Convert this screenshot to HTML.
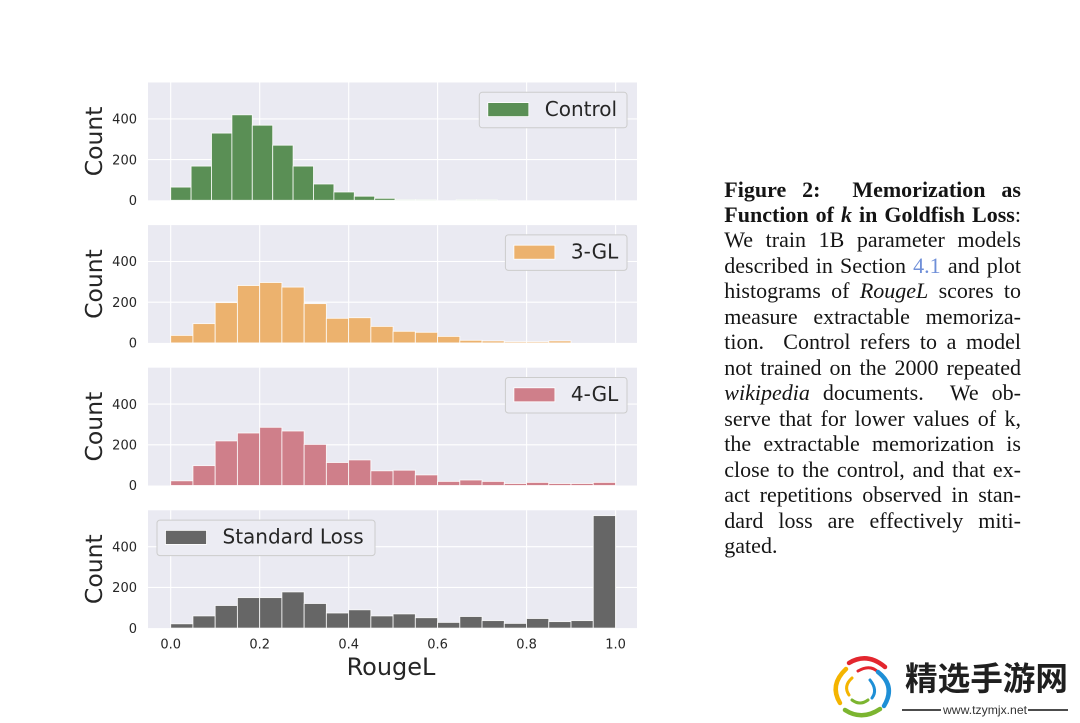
<!DOCTYPE html>
<html><head><meta charset="utf-8">
<style>
html,body{margin:0;padding:0;background:#fff;}
#wrap{position:relative;width:1080px;height:723px;overflow:hidden;background:#fff;}
svg{position:absolute;left:0;top:0;}
#cap{position:absolute;left:724.3px;top:176.5px;width:296.7px;font-family:"Liberation Serif","Times New Roman",serif;font-size:22px;line-height:25.47px;color:#141414;}
#cap div{text-align:justify;text-align-last:justify;height:25.47px;}
#cap div.last{text-align:left;text-align-last:left;}
.bl{color:#6f8fd8;}
</style></head>
<body><div id="wrap">
<svg width="1080" height="723" viewBox="0 0 1080 723" xmlns="http://www.w3.org/2000/svg" font-family="'DejaVu Sans','Liberation Sans',sans-serif">
<!-- panel backgrounds -->
<rect x="148" y="82.5" width="489" height="117.8" fill="#eaeaf2"/>
<rect x="148" y="225.1" width="489" height="117.8" fill="#eaeaf2"/>
<rect x="148" y="367.7" width="489" height="117.8" fill="#eaeaf2"/>
<rect x="148" y="510.3" width="489" height="117.8" fill="#eaeaf2"/>
<!-- grid -->
<g stroke="#ffffff" stroke-width="1.1">
<line x1="170.7" y1="82.5" x2="170.7" y2="200.3"/><line x1="259.7" y1="82.5" x2="259.7" y2="200.3"/><line x1="348.7" y1="82.5" x2="348.7" y2="200.3"/><line x1="437.6" y1="82.5" x2="437.6" y2="200.3"/><line x1="526.6" y1="82.5" x2="526.6" y2="200.3"/><line x1="615.6" y1="82.5" x2="615.6" y2="200.3"/>
<line x1="148" y1="159.6" x2="637" y2="159.6"/><line x1="148" y1="118.9" x2="637" y2="118.9"/>
<line x1="170.7" y1="225.1" x2="170.7" y2="342.9"/><line x1="259.7" y1="225.1" x2="259.7" y2="342.9"/><line x1="348.7" y1="225.1" x2="348.7" y2="342.9"/><line x1="437.6" y1="225.1" x2="437.6" y2="342.9"/><line x1="526.6" y1="225.1" x2="526.6" y2="342.9"/><line x1="615.6" y1="225.1" x2="615.6" y2="342.9"/>
<line x1="148" y1="302.2" x2="637" y2="302.2"/><line x1="148" y1="261.5" x2="637" y2="261.5"/>
<line x1="170.7" y1="367.7" x2="170.7" y2="485.5"/><line x1="259.7" y1="367.7" x2="259.7" y2="485.5"/><line x1="348.7" y1="367.7" x2="348.7" y2="485.5"/><line x1="437.6" y1="367.7" x2="437.6" y2="485.5"/><line x1="526.6" y1="367.7" x2="526.6" y2="485.5"/><line x1="615.6" y1="367.7" x2="615.6" y2="485.5"/>
<line x1="148" y1="444.8" x2="637" y2="444.8"/><line x1="148" y1="404.1" x2="637" y2="404.1"/>
<line x1="170.7" y1="510.3" x2="170.7" y2="628.1"/><line x1="259.7" y1="510.3" x2="259.7" y2="628.1"/><line x1="348.7" y1="510.3" x2="348.7" y2="628.1"/><line x1="437.6" y1="510.3" x2="437.6" y2="628.1"/><line x1="526.6" y1="510.3" x2="526.6" y2="628.1"/><line x1="615.6" y1="510.3" x2="615.6" y2="628.1"/>
<line x1="148" y1="587.4" x2="637" y2="587.4"/><line x1="148" y1="546.7" x2="637" y2="546.7"/>
</g>
<!-- Panel 1 bars: Control -->
<g fill="#5a8f55" stroke="#ffffff" stroke-width="0.9" stroke-opacity="0.85">
<rect x="170.7" y="187.1" width="20.4" height="13.2"/>
<rect x="191.1" y="166.1" width="20.4" height="34.2"/>
<rect x="211.5" y="133.1" width="20.4" height="67.2"/>
<rect x="231.9" y="114.8" width="20.4" height="85.5"/>
<rect x="252.3" y="125.2" width="20.4" height="75.1"/>
<rect x="272.7" y="145.2" width="20.4" height="55.1"/>
<rect x="293.1" y="166.1" width="20.4" height="34.2"/>
<rect x="313.5" y="184.0" width="20.4" height="16.3"/>
<rect x="333.9" y="192.0" width="20.4" height="8.3"/>
<rect x="354.3" y="196.2" width="20.4" height="4.1"/>
<rect x="374.7" y="198.3" width="20.4" height="2.0"/>
<rect x="395.1" y="199.6" width="20.4" height="0.7"/>
<rect x="415.5" y="199.7" width="20.4" height="0.6"/>
<rect x="456.3" y="199.7" width="20.4" height="0.6"/>
<rect x="476.7" y="199.7" width="20.4" height="0.6"/>
</g>
<!-- Panel 2 bars: 3-GL -->
<g fill="#ecb26e" stroke="#ffffff" stroke-width="0.9" stroke-opacity="0.85">
<rect x="170.7" y="335.4" width="22.24" height="7.5"/>
<rect x="192.94" y="323.6" width="22.24" height="19.3"/>
<rect x="215.18" y="302.6" width="22.24" height="40.3"/>
<rect x="237.42" y="285.5" width="22.24" height="57.4"/>
<rect x="259.66" y="282.5" width="22.24" height="60.4"/>
<rect x="281.9" y="287.1" width="22.24" height="55.8"/>
<rect x="304.14" y="303.6" width="22.24" height="39.3"/>
<rect x="326.38" y="318.3" width="22.24" height="24.6"/>
<rect x="348.62" y="317.7" width="22.24" height="25.2"/>
<rect x="370.86" y="326.4" width="22.24" height="16.5"/>
<rect x="393.1" y="331.3" width="22.24" height="11.6"/>
<rect x="415.34" y="332.3" width="22.24" height="10.6"/>
<rect x="437.58" y="336.4" width="22.24" height="6.5"/>
<rect x="459.82" y="340.3" width="22.24" height="2.6"/>
<rect x="482.06" y="340.9" width="22.24" height="2.0"/>
<rect x="504.3" y="341.7" width="22.24" height="1.2"/>
<rect x="526.54" y="341.7" width="22.24" height="1.2"/>
<rect x="548.78" y="340.9" width="22.24" height="2.0"/>
</g>
<!-- Panel 3 bars: 4-GL -->
<g fill="#cf7f8a" stroke="#ffffff" stroke-width="0.9" stroke-opacity="0.85">
<rect x="170.7" y="480.8" width="22.24" height="4.7"/>
<rect x="192.94" y="465.6" width="22.24" height="19.9"/>
<rect x="215.18" y="440.9" width="22.24" height="44.6"/>
<rect x="237.42" y="433.0" width="22.24" height="52.5"/>
<rect x="259.66" y="427.3" width="22.24" height="58.2"/>
<rect x="281.9" y="431.0" width="22.24" height="54.5"/>
<rect x="304.14" y="444.4" width="22.24" height="41.1"/>
<rect x="326.38" y="462.5" width="22.24" height="23.0"/>
<rect x="348.62" y="459.9" width="22.24" height="25.6"/>
<rect x="370.86" y="470.8" width="22.24" height="14.7"/>
<rect x="393.1" y="470.2" width="22.24" height="15.3"/>
<rect x="415.34" y="474.9" width="22.24" height="10.6"/>
<rect x="437.58" y="481.4" width="22.24" height="4.1"/>
<rect x="459.82" y="480.0" width="22.24" height="5.5"/>
<rect x="482.06" y="481.4" width="22.24" height="4.1"/>
<rect x="504.3" y="483.5" width="22.24" height="2.0"/>
<rect x="526.54" y="482.4" width="22.24" height="3.1"/>
<rect x="548.78" y="483.5" width="22.24" height="2.0"/>
<rect x="571.02" y="483.5" width="22.24" height="2.0"/>
<rect x="593.26" y="482.4" width="22.24" height="3.1"/>
</g>
<!-- Panel 4 bars: Standard Loss -->
<g fill="#666666" stroke="#ffffff" stroke-width="0.9" stroke-opacity="0.85">
<rect x="170.7" y="623.8" width="22.24" height="4.3"/>
<rect x="192.94" y="615.9" width="22.24" height="12.2"/>
<rect x="215.18" y="605.5" width="22.24" height="22.6"/>
<rect x="237.42" y="597.6" width="22.24" height="30.5"/>
<rect x="259.66" y="597.6" width="22.24" height="30.5"/>
<rect x="281.9" y="591.9" width="22.24" height="36.2"/>
<rect x="304.14" y="603.5" width="22.24" height="24.6"/>
<rect x="326.38" y="613.0" width="22.24" height="15.1"/>
<rect x="348.62" y="609.8" width="22.24" height="18.3"/>
<rect x="370.86" y="615.9" width="22.24" height="12.2"/>
<rect x="393.1" y="613.9" width="22.24" height="14.2"/>
<rect x="415.34" y="617.7" width="22.24" height="10.4"/>
<rect x="437.58" y="622.4" width="22.24" height="5.7"/>
<rect x="459.82" y="616.5" width="22.24" height="11.6"/>
<rect x="482.06" y="620.6" width="22.24" height="7.5"/>
<rect x="504.3" y="623.4" width="22.24" height="4.7"/>
<rect x="526.54" y="618.5" width="22.24" height="9.6"/>
<rect x="548.78" y="621.6" width="22.24" height="6.5"/>
<rect x="571.02" y="620.6" width="22.24" height="7.5"/>
<rect x="593.26" y="515.6" width="22.24" height="112.5"/>
</g>
<!-- y tick labels -->
<g font-size="13" fill="#262626" text-anchor="end">
<text x="137" y="205">0</text><text x="137" y="164.3">200</text><text x="137" y="123.6">400</text>
<text x="137" y="347.6">0</text><text x="137" y="306.9">200</text><text x="137" y="266.2">400</text>
<text x="137" y="490.2">0</text><text x="137" y="449.5">200</text><text x="137" y="408.8">400</text>
<text x="137" y="632.8">0</text><text x="137" y="592.1">200</text><text x="137" y="551.4">400</text>
</g>
<!-- y axis labels -->
<g font-size="23.5" fill="#262626" text-anchor="middle">
<text transform="translate(102,141.4) rotate(-90)">Count</text>
<text transform="translate(102,284) rotate(-90)">Count</text>
<text transform="translate(102,426.6) rotate(-90)">Count</text>
<text transform="translate(102,569.2) rotate(-90)">Count</text>
</g>
<!-- x tick labels -->
<g font-size="13" fill="#262626" text-anchor="middle">
<text x="170.7" y="648.5">0.0</text><text x="259.7" y="648.5">0.2</text><text x="348.7" y="648.5">0.4</text><text x="437.6" y="648.5">0.6</text><text x="526.6" y="648.5">0.8</text><text x="615.6" y="648.5">1.0</text>
</g>
<text x="391" y="675" font-size="24" fill="#262626" text-anchor="middle">RougeL</text>
<!-- legends -->
<g stroke="#cccccc" stroke-width="1" fill="#ececf3">
<rect x="479.3" y="92.3" width="147.7" height="35.5" rx="3"/>
<rect x="505.4" y="234.9" width="121.6" height="35.5" rx="3"/>
<rect x="505.4" y="377.5" width="121.6" height="35.5" rx="3"/>
<rect x="157" y="520.1" width="218" height="35.5" rx="3"/>
</g>
<rect x="487.8" y="102.6" width="41" height="14" fill="#5a8f55" stroke="#fff" stroke-width="0.8"/>
<rect x="513.9" y="245.2" width="41" height="14" fill="#ecb26e" stroke="#fff" stroke-width="0.8"/>
<rect x="513.9" y="387.8" width="41" height="14" fill="#cf7f8a" stroke="#fff" stroke-width="0.8"/>
<rect x="165.5" y="530.4" width="41" height="14" fill="#666666" stroke="#fff" stroke-width="0.8"/>
<g font-size="20" fill="#262626">
<text x="544.8" y="115.8">Control</text>
<text x="570.9" y="258.4">3-GL</text>
<text x="570.9" y="401">4-GL</text>
<text x="222.5" y="543.6">Standard Loss</text>
</g>
<!-- watermark -->
<g fill="none" stroke-linecap="round">
<path d="M849,663 Q867,652 885,667" stroke="#e3262e" stroke-width="4.5"/>
<path d="M858,671 Q870,664 878,672" stroke="#e3262e" stroke-width="3"/>
<path d="M878,672 Q896,686 884,706" stroke="#1e8fd6" stroke-width="4.5"/>
<path d="M870,680 Q878,690 872,698" stroke="#1e8fd6" stroke-width="3"/>
<path d="M880,709 Q862,721 845,710" stroke="#7cb530" stroke-width="4.5"/>
<path d="M868,700 Q860,706 852,700" stroke="#7cb530" stroke-width="3"/>
<path d="M840,703 Q829,685 846,669" stroke="#f4b400" stroke-width="4.5"/>
<path d="M849,695 Q843,686 852,678" stroke="#f4b400" stroke-width="3"/>
</g>
<text x="905" y="690" font-family="'Noto Sans CJK SC','WenQuanYi Zen Hei',sans-serif" font-size="32.6" font-weight="bold" fill="#1f1f1f" textLength="163" lengthAdjust="spacingAndGlyphs">精选手游网</text>
<line x1="902" y1="710" x2="941" y2="710" stroke="#333" stroke-width="1.8"/>
<line x1="1028" y1="710" x2="1068" y2="710" stroke="#333" stroke-width="1.8"/>
<text x="943" y="714" font-family="'Liberation Sans',sans-serif" font-size="12" fill="#333" textLength="84" lengthAdjust="spacingAndGlyphs">www.tzymjx.net</text>
</svg>
<div id="cap">
<div><b>Figure 2: &nbsp;Memorization as</b></div>
<div><b>Function of <i>k</i> in Goldfish Loss</b>:</div>
<div>We train 1B parameter models</div>
<div>described in Section <span class="bl">4.1</span> and plot</div>
<div>histograms of <i>RougeL</i> scores to</div>
<div>measure extractable memoriza-</div>
<div>tion. &nbsp;Control refers to a model</div>
<div>not trained on the 2000 repeated</div>
<div><i>wikipedia</i> documents. &nbsp;We ob-</div>
<div>serve that for lower values of k,</div>
<div>the extractable memorization is</div>
<div>close to the control, and that ex-</div>
<div>act repetitions observed in stan-</div>
<div>dard loss are effectively miti-</div>
<div class="last">gated.</div>
</div>
</div></body></html>
